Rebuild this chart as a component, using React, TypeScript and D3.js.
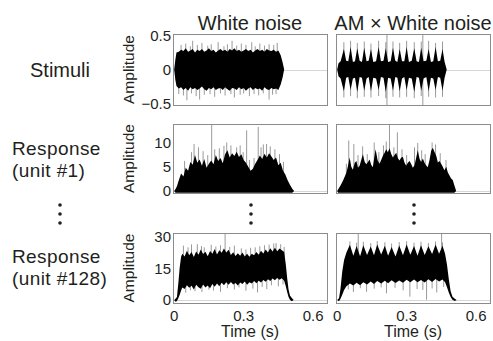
import React, { useEffect, useRef } from "react";
import * as d3 from "d3";

const columnTitles = ["White noise", "AM × White noise"];
const rowLabels = [["Stimuli"], ["Response", "(unit #1)"], ["Response", "(unit #128)"]];
const timeTicks = [0, 0.3, 0.6];
const stimTicks = [-0.5, 0, 0.5];
const unit1Ticks = [0, 5, 10];
const unit128Ticks = [0, 15, 30];

// dense trace envelopes: [time (s), lower, upper]
const stimWN = [
  [0.0, 0, 0], [0.005, -0.15, 0.14], [0.01, -0.24, 0.25], [0.02, -0.28, 0.26], [0.03, -0.26, 0.29],
  [0.04, -0.3, 0.27], [0.05, -0.27, 0.31], [0.06, -0.31, 0.26], [0.07, -0.26, 0.28], [0.08, -0.29, 0.3],
  [0.09, -0.27, 0.25], [0.1, -0.3, 0.29], [0.11, -0.28, 0.27], [0.12, -0.25, 0.3], [0.13, -0.29, 0.26],
  [0.14, -0.31, 0.28], [0.15, -0.27, 0.31], [0.16, -0.29, 0.27], [0.17, -0.26, 0.29], [0.18, -0.3, 0.25],
  [0.19, -0.28, 0.28], [0.2, -0.27, 0.3], [0.21, -0.3, 0.27], [0.22, -0.26, 0.29], [0.23, -0.29, 0.26],
  [0.24, -0.31, 0.3], [0.25, -0.27, 0.28], [0.26, -0.28, 0.31], [0.27, -0.3, 0.27], [0.28, -0.26, 0.29],
  [0.29, -0.29, 0.26], [0.3, -0.27, 0.28], [0.31, -0.31, 0.3], [0.32, -0.28, 0.27], [0.33, -0.26, 0.29],
  [0.34, -0.3, 0.25], [0.35, -0.27, 0.28], [0.36, -0.29, 0.3], [0.37, -0.28, 0.27], [0.38, -0.31, 0.29],
  [0.39, -0.26, 0.26], [0.4, -0.29, 0.3], [0.41, -0.3, 0.28], [0.42, -0.27, 0.27], [0.43, -0.29, 0.29],
  [0.44, -0.28, 0.26], [0.45, -0.3, 0.28], [0.46, -0.22, 0.21], [0.468, -0.12, 0.11], [0.475, 0, 0],
];
// thin excursions beyond the envelope: [time (s), peak]
const stimWNSpikes = [
  [0.03, 0.36], [0.05, 0.38], [0.07, 0.34], [0.08, 0.42], [0.1, 0.36], [0.12, 0.39], [0.145, 0.35],
  [0.16, 0.37], [0.19, 0.4], [0.215, 0.34], [0.23, 0.37], [0.25, 0.42], [0.27, 0.35], [0.29, 0.38],
  [0.31, 0.36], [0.335, 0.4], [0.35, 0.34], [0.37, 0.38], [0.39, 0.35], [0.41, 0.37], [0.43, 0.36],
  [0.445, 0.39], [0.02, -0.36], [0.04, -0.38], [0.055, -0.45], [0.075, -0.35], [0.095, -0.39],
  [0.11, -0.44], [0.13, -0.37], [0.155, -0.36], [0.175, -0.4], [0.2, -0.35], [0.22, -0.38],
  [0.245, -0.36], [0.26, -0.41], [0.285, -0.37], [0.3, -0.35], [0.325, -0.39], [0.345, -0.36],
  [0.365, -0.38], [0.385, -0.35], [0.41, -0.44], [0.425, -0.37], [0.44, -0.36],
];

const stimAM = [
  [0.0, 0, 0], [0.006, -0.1, 0.09], [0.015, -0.13, 0.12], [0.029, -0.32, 0.3], [0.039, -0.12, 0.13],
  [0.048, -0.11, 0.12], [0.058, -0.3, 0.33], [0.068, -0.13, 0.11], [0.077, -0.12, 0.12], [0.087, -0.33, 0.31],
  [0.097, -0.11, 0.13], [0.107, -0.12, 0.11], [0.117, -0.31, 0.32], [0.127, -0.13, 0.12], [0.136, -0.11, 0.13],
  [0.146, -0.32, 0.3], [0.156, -0.12, 0.11], [0.168, -0.13, 0.12], [0.179, -0.3, 0.33], [0.189, -0.11, 0.12],
  [0.2, -0.12, 0.13], [0.21, -0.33, 0.31], [0.22, -0.12, 0.11], [0.231, -0.13, 0.12], [0.241, -0.31, 0.32],
  [0.251, -0.11, 0.13], [0.26, -0.12, 0.11], [0.27, -0.32, 0.3], [0.28, -0.13, 0.12], [0.29, -0.11, 0.12],
  [0.3, -0.3, 0.33], [0.31, -0.12, 0.11], [0.322, -0.13, 0.13], [0.333, -0.33, 0.31], [0.343, -0.11, 0.12],
  [0.353, -0.12, 0.11], [0.363, -0.31, 0.32], [0.373, -0.13, 0.12], [0.385, -0.11, 0.13], [0.395, -0.32, 0.3],
  [0.405, -0.12, 0.11], [0.415, -0.13, 0.12], [0.425, -0.3, 0.33], [0.435, -0.11, 0.12], [0.445, -0.12, 0.13],
  [0.455, -0.31, 0.3], [0.464, -0.12, 0.11], [0.473, 0, 0],
];
const stimAMSpikes = [
  [0.029, 0.4], [0.029, -0.41], [0.058, 0.42], [0.058, -0.39], [0.087, 0.39], [0.087, -0.42],
  [0.117, 0.41], [0.117, -0.4], [0.146, 0.38], [0.146, -0.41], [0.179, 0.42], [0.179, -0.39],
  [0.21, 0.4], [0.21, -0.42], [0.215, 0.52], [0.215, -0.52], [0.241, 0.41], [0.241, -0.4],
  [0.27, 0.39], [0.27, -0.41], [0.3, 0.42], [0.3, -0.4], [0.333, 0.4], [0.333, -0.42],
  [0.363, 0.41], [0.363, -0.39], [0.37, 0.52], [0.37, -0.52], [0.395, 0.42], [0.395, -0.4],
  [0.425, 0.39], [0.425, -0.41], [0.455, 0.41], [0.455, -0.4],
];

const unit1WN = [
  [0.0, 0, 0], [0.006, -0.35, 0.4], [0.012, -0.35, 1.0], [0.02, -0.35, 2.2], [0.03, -0.35, 3.6],
  [0.04, -0.35, 3.0], [0.05, -0.35, 4.8], [0.06, -0.35, 4.2], [0.07, -0.35, 6.0], [0.08, -0.35, 5.4],
  [0.09, -0.35, 7.4], [0.1, -0.35, 5.8], [0.11, -0.35, 6.5], [0.12, -0.35, 5.2], [0.13, -0.35, 6.6],
  [0.14, -0.35, 4.8], [0.15, -0.35, 5.6], [0.16, -0.35, 6.3], [0.17, -0.35, 5.5], [0.18, -0.35, 7.4],
  [0.19, -0.35, 6.2], [0.2, -0.35, 6.8], [0.21, -0.35, 5.7], [0.22, -0.35, 7.6], [0.23, -0.35, 8.4],
  [0.24, -0.35, 6.9], [0.25, -0.35, 7.8], [0.26, -0.35, 7.2], [0.27, -0.35, 8.1], [0.28, -0.35, 7.0],
  [0.29, -0.35, 7.6], [0.3, -0.35, 6.4], [0.31, -0.35, 5.8], [0.32, -0.35, 5.0], [0.33, -0.35, 4.2],
  [0.34, -0.35, 4.6], [0.35, -0.35, 5.6], [0.36, -0.35, 6.4], [0.37, -0.35, 7.3], [0.38, -0.35, 6.6],
  [0.39, -0.35, 7.7], [0.4, -0.35, 6.9], [0.41, -0.35, 7.8], [0.42, -0.35, 7.1], [0.43, -0.35, 6.4],
  [0.44, -0.35, 6.9], [0.45, -0.35, 5.3], [0.46, -0.35, 5.8], [0.47, -0.35, 4.2], [0.48, -0.35, 3.4],
  [0.49, -0.35, 2.2], [0.5, -0.35, 1.3], [0.51, -0.35, 0.5], [0.518, 0, 0],
];
const unit1WNSpikes = [
  [0.045, 6.2], [0.075, 8.0], [0.086, 9.7], [0.105, 9.0], [0.125, 8.2], [0.145, 7.4], [0.162, 13.6],
  [0.175, 8.6], [0.195, 8.8], [0.215, 9.3], [0.227, 10.0], [0.245, 9.4], [0.27, 9.0], [0.285, 9.4],
  [0.298, 8.0], [0.313, 12.5], [0.325, 6.4], [0.345, 6.8], [0.363, 13.2], [0.375, 9.0], [0.385, 9.6],
  [0.399, 9.7], [0.415, 9.2], [0.435, 8.6], [0.455, 7.6], [0.472, 6.0],
];

const unit1AM = [
  [0.0, 0, 0], [0.004, -0.35, 0.3], [0.015, -0.35, 1.2], [0.025, -0.35, 2.1], [0.033, -0.35, 3.0],
  [0.04, -0.35, 3.8], [0.047, -0.35, 5.2], [0.054, -0.35, 6.9], [0.061, -0.35, 5.0], [0.068, -0.35, 4.4],
  [0.076, -0.35, 5.8], [0.083, -0.35, 6.2], [0.09, -0.35, 4.8], [0.097, -0.35, 5.2], [0.104, -0.35, 6.4],
  [0.111, -0.35, 7.6], [0.119, -0.35, 6.0], [0.126, -0.35, 5.5], [0.133, -0.35, 6.0], [0.14, -0.35, 6.5],
  [0.147, -0.35, 5.4], [0.154, -0.35, 4.9], [0.16, -0.35, 6.8], [0.166, -0.35, 8.6], [0.175, -0.35, 6.3],
  [0.183, -0.35, 5.6], [0.19, -0.35, 6.4], [0.198, -0.35, 7.3], [0.205, -0.35, 7.9], [0.212, -0.35, 8.6],
  [0.219, -0.35, 8.0], [0.226, -0.35, 8.8], [0.234, -0.35, 7.6], [0.241, -0.35, 6.9], [0.248, -0.35, 7.4],
  [0.255, -0.35, 7.9], [0.262, -0.35, 6.8], [0.269, -0.35, 6.3], [0.277, -0.35, 6.9], [0.284, -0.35, 7.0],
  [0.291, -0.35, 5.8], [0.298, -0.35, 5.2], [0.306, -0.35, 5.9], [0.313, -0.35, 6.2], [0.32, -0.35, 5.5],
  [0.327, -0.35, 4.8], [0.334, -0.35, 5.3], [0.341, -0.35, 6.8], [0.348, -0.35, 8.4], [0.356, -0.35, 6.6],
  [0.363, -0.35, 6.0], [0.37, -0.35, 6.7], [0.377, -0.35, 5.8], [0.384, -0.35, 5.3], [0.391, -0.35, 4.9],
  [0.398, -0.35, 6.2], [0.406, -0.35, 8.3], [0.413, -0.35, 8.9], [0.42, -0.35, 8.1], [0.428, -0.35, 7.2],
  [0.435, -0.35, 5.9], [0.442, -0.35, 6.2], [0.449, -0.35, 5.6], [0.456, -0.35, 5.0], [0.463, -0.35, 4.3],
  [0.471, -0.35, 5.0], [0.478, -0.35, 3.8], [0.485, -0.35, 3.2], [0.492, -0.35, 2.6], [0.499, -0.35, 2.3],
  [0.506, -0.35, 1.2], [0.514, 0, 0],
];
const unit1AMSpikes = [
  [0.04, 5.6], [0.05, 10.4], [0.072, 9.7], [0.09, 7.4], [0.11, 9.2], [0.13, 7.6], [0.16, 10.0],
  [0.18, 8.0], [0.2, 9.4], [0.212, 10.2], [0.226, 13.8], [0.245, 9.0], [0.26, 12.1], [0.28, 8.6],
  [0.3, 7.4], [0.334, 9.0], [0.348, 9.9], [0.365, 8.4], [0.38, 7.6], [0.41, 10.0], [0.425, 9.6],
  [0.445, 7.8], [0.47, 6.4],
];

const unit128WN = [
  [0.0, 0, 0], [0.006, -0.8, 0.6], [0.012, -0.5, 1.5], [0.018, 0.8, 8.0], [0.024, 2.5, 15.5],
  [0.03, 4.5, 20.5], [0.035, 6.0, 22.0], [0.045, 5.2, 20.6], [0.055, 7.0, 23.4], [0.065, 5.8, 21.2],
  [0.075, 6.8, 22.8], [0.085, 5.0, 20.4], [0.095, 7.2, 23.0], [0.105, 6.1, 21.5], [0.115, 5.4, 24.0],
  [0.125, 7.4, 21.8], [0.135, 6.0, 22.9], [0.145, 6.9, 20.8], [0.155, 5.6, 23.3], [0.165, 7.6, 22.0],
  [0.175, 6.3, 24.2], [0.185, 7.9, 21.6], [0.195, 6.5, 23.6], [0.205, 8.2, 22.4], [0.215, 7.0, 24.4],
  [0.225, 8.4, 22.6], [0.235, 7.2, 23.8], [0.245, 8.6, 21.4], [0.255, 7.4, 22.7], [0.265, 8.1, 20.9],
  [0.275, 6.9, 22.2], [0.285, 8.3, 21.0], [0.295, 7.6, 22.5], [0.305, 8.8, 20.7], [0.315, 7.3, 21.9],
  [0.325, 8.5, 20.5], [0.335, 7.8, 22.0], [0.345, 9.0, 21.2], [0.355, 8.0, 22.8], [0.365, 9.2, 21.5],
  [0.375, 8.3, 23.4], [0.385, 9.5, 22.1], [0.395, 8.7, 24.0], [0.405, 9.9, 22.6], [0.415, 9.0, 24.6],
  [0.425, 10.2, 23.0], [0.435, 9.4, 24.8], [0.445, 10.5, 23.2], [0.455, 9.6, 24.5], [0.465, 10.3, 23.6],
  [0.475, 9.1, 22.8], [0.482, 6.5, 17.0], [0.488, 3.8, 10.5], [0.494, 1.5, 5.0], [0.5, 0.2, 2.2],
  [0.508, -0.6, 1.0], [0.516, 0, 0],
];
const unit128WNSpikes = [
  [0.04, 25.8], [0.06, 25.0], [0.075, 26.4], [0.1, 26.5], [0.118, 25.6], [0.13, 25.0], [0.16, 26.2],
  [0.18, 25.4], [0.2, 26.0], [0.22, 31.8], [0.24, 25.2], [0.26, 25.8], [0.29, 24.5], [0.31, 24.0],
  [0.33, 24.8], [0.35, 25.0], [0.37, 25.5], [0.39, 26.0], [0.41, 26.3], [0.43, 26.8], [0.44, 27.0],
  [0.46, 26.5], [0.475, 25.2], [0.05, 3.5], [0.07, 4.6], [0.09, 4.2], [0.12, 3.8], [0.15, 4.9],
  [0.17, 4.5], [0.2, 3.9], [0.23, 5.6], [0.26, 5.0], [0.28, 6.0], [0.31, 4.4], [0.34, 5.4],
  [0.36, 3.6], [0.38, 6.2], [0.4, 5.2], [0.42, 7.0], [0.45, 6.5], [0.47, 7.4],
];

const unit128AM = [
  [0.0, 0, 0], [0.008, -0.6, 0.8], [0.014, 0.5, 5.0], [0.022, 2.5, 13.5], [0.03, 4.8, 19.0],
  [0.04, 6.5, 22.5], [0.055, 7.8, 26.2], [0.07, 6.9, 21.0], [0.084, 8.2, 25.6], [0.099, 7.0, 20.8],
  [0.113, 8.5, 26.0], [0.129, 7.4, 21.4], [0.145, 8.8, 25.4], [0.159, 7.6, 21.2], [0.173, 9.0, 26.4],
  [0.19, 7.8, 21.6], [0.206, 9.2, 25.8], [0.22, 8.0, 21.0], [0.235, 9.4, 25.2], [0.252, 8.1, 20.6],
  [0.268, 9.3, 25.9], [0.284, 8.2, 21.3], [0.3, 9.6, 26.3], [0.316, 8.4, 21.5], [0.332, 9.8, 25.6],
  [0.347, 8.5, 21.0], [0.362, 9.5, 26.0], [0.378, 8.3, 21.4], [0.394, 9.9, 25.5], [0.41, 8.6, 21.8],
  [0.425, 10.0, 26.4], [0.44, 8.8, 21.9], [0.455, 9.7, 25.8], [0.466, 8.4, 22.0], [0.474, 6.2, 17.0],
  [0.482, 3.6, 10.0], [0.49, 1.4, 4.2], [0.498, 0.2, 1.6], [0.508, -0.5, 0.6], [0.516, 0, 0],
];
const unit128AMSpikes = [
  [0.055, 27.8], [0.084, 27.2], [0.091, 31.8], [0.113, 27.6], [0.145, 27.0], [0.173, 28.0],
  [0.206, 27.4], [0.235, 26.8], [0.268, 27.5], [0.3, 27.9], [0.332, 27.2], [0.362, 27.6],
  [0.394, 27.0], [0.425, 27.8], [0.451, 31.8], [0.455, 27.3], [0.048, 5.0], [0.07, 3.8],
  [0.1, 5.6], [0.127, 3.9], [0.16, 5.4], [0.19, 6.0], [0.213, 3.2], [0.25, 5.8], [0.285, 4.6],
  [0.314, 1.6], [0.345, 5.2], [0.37, 4.8], [0.386, 0.2], [0.41, 5.5], [0.43, 3.6], [0.46, 6.2],
];

const colLeft = [173, 336];
const panelW = 154;
const rows = [
  { top: 34, h: 71, domain: [-0.52, 0.52], ticks: stimTicks, base: 0, traces: [[stimWN, stimWNSpikes], [stimAM, stimAMSpikes]] },
  { top: 124, h: 69, domain: [-0.4, 13.8], ticks: unit1Ticks, base: 0, traces: [[unit1WN, unit1WNSpikes], [unit1AM, unit1AMSpikes]] },
  { top: 233, h: 70, domain: [-1.4, 31.8], ticks: unit128Ticks, base: 15, traces: [[unit128WN, unit128WNSpikes], [unit128AM, unit128AMSpikes]] },
];

const fmt = (v: number) => (v < 0 ? "\u2212" : "") + Math.abs(v);

export default function App() {
  const svgRef = useRef<SVGSVGElement>(null);

  useEffect(() => {
    const svg = d3.select(svgRef.current);
    svg.selectAll("*").remove();
    const font = "'Liberation Sans', Arial, Helvetica, sans-serif";
    const ink = "#231f20";

    const xScale = (c: number) =>
      d3.scaleLinear().domain([-0.005, 0.66]).range([colLeft[c], colLeft[c] + panelW]);

    rows.forEach((row, r) => {
      const y = d3.scaleLinear().domain(row.domain).range([row.top + row.h, row.top]);

      row.traces.forEach(([env, spikes], c) => {
        const x = xScale(c);
        const id = `clip-${r}-${c}`;
        svg.append("clipPath").attr("id", id)
          .append("rect")
          .attr("x", colLeft[c]).attr("y", row.top)
          .attr("width", panelW).attr("height", row.h);

        const g = svg.append("g").attr("clip-path", `url(#${id})`);

        // zero line
        g.append("line")
          .attr("x1", colLeft[c]).attr("x2", colLeft[c] + panelW)
          .attr("y1", Math.round(y(0)) + 0.5).attr("y2", Math.round(y(0)) + 0.5)
          .attr("stroke", "#d6d6d6");

        g.selectAll("line.spike")
          .data(spikes)
          .enter()
          .append("line")
          .attr("class", "spike")
          .attr("x1", (d) => x(d[0])).attr("x2", (d) => x(d[0]))
          .attr("y1", y(row.base)).attr("y2", (d) => y(d[1]))
          .attr("stroke", "#000")
          .attr("stroke-opacity", 0.5)
          .attr("stroke-width", 0.8);

        const area = d3.area<number[]>()
          .x((d) => x(d[0]))
          .y0((d) => y(d[1]))
          .y1((d) => y(d[2]));
        g.append("path").attr("d", area(env)).attr("fill", "#000");

        // frame
        svg.append("rect")
          .attr("x", colLeft[c] + 0.5).attr("y", row.top + 0.5)
          .attr("width", panelW).attr("height", row.h)
          .attr("fill", "none").attr("stroke", "#8c8c8c");

        if (r === 0) {
          svg.append("text")
            .attr("x", colLeft[c] + panelW / 2).attr("y", 30)
            .attr("text-anchor", "middle")
            .style("font-family", font).style("font-size", "20px").attr("fill", ink)
            .text(columnTitles[c]);
        }

        if (r === rows.length - 1) {
          svg.selectAll(null)
            .data(timeTicks)
            .enter()
            .append("text")
            .attr("x", (d) => x(d)).attr("y", 321)
            .attr("text-anchor", "middle")
            .style("font-family", font).style("font-size", "15px").attr("fill", ink)
            .text((d) => fmt(d));
          svg.append("text")
            .attr("x", colLeft[c] + panelW / 2).attr("y", 337)
            .attr("text-anchor", "middle")
            .style("font-family", font).style("font-size", "16px").attr("fill", ink)
            .text("Time (s)");
        }

        // vertical ellipsis between unit rows
        if (r === 1) {
          svg.selectAll(null)
            .data([205, 214, 223])
            .enter()
            .append("circle")
            .attr("cx", colLeft[c] + panelW / 2 + 1).attr("cy", (d) => d)
            .attr("r", 1.8).attr("fill", ink);
        }
      });

      // y tick labels
      svg.selectAll(null)
        .data(row.ticks)
        .enter()
        .append("text")
        .attr("x", 171).attr("y", (d) => y(d))
        .attr("dy", "0.36em")
        .attr("text-anchor", "end")
        .style("font-family", font).style("font-size", "15px").attr("fill", ink)
        .text((d) => fmt(d));

      const mid = row.top + row.h / 2;
      svg.append("text")
        .attr("transform", `translate(134,${mid}) rotate(-90)`)
        .attr("text-anchor", "middle")
        .style("font-family", font).style("font-size", "15.5px").attr("fill", ink)
        .text("Amplitude");
    });

    // row labels
    svg.append("text")
      .attr("x", 60).attr("y", 77)
      .attr("text-anchor", "middle")
      .style("font-family", font).style("font-size", "20px").attr("fill", ink)
      .text(rowLabels[0][0]);
    [[155, 177], [263, 285]].forEach((ys, i) => {
      rowLabels[i + 1].forEach((t, j) => {
        svg.append("text")
          .attr("x", 12).attr("y", ys[j])
          .style("font-family", font).style("font-size", "19px")
          .style("letter-spacing", "0.4px").attr("fill", ink)
          .text(t);
      });
    });
    svg.selectAll(null)
      .data([205, 214, 223])
      .enter()
      .append("circle")
      .attr("cx", 60).attr("cy", (d) => d)
      .attr("r", 1.8).attr("fill", ink);
  }, []);

  return (
    <svg
      ref={svgRef}
      width={493}
      height={341}
      style={{ position: "absolute", left: 0, top: 0, background: "#fff" }}
    />
  );
}
